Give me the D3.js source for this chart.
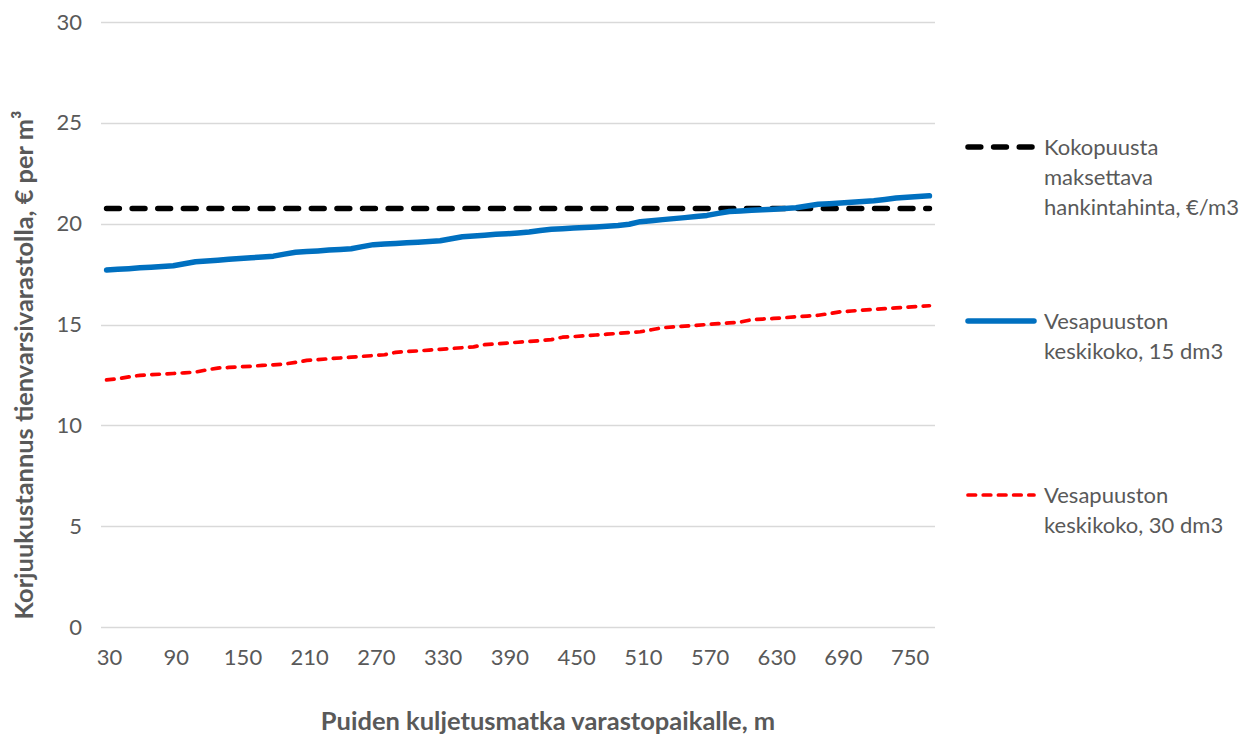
<!DOCTYPE html>
<html>
<head>
<meta charset="utf-8">
<script src="https://cdn.jsdelivr.net/npm/d3@7"></script>
<style>
  html, body { margin: 0; padding: 0; background: #ffffff; }
  svg { display: block; }
  text { font-family: Lato, "Open Sans", sans-serif; fill: #595959; }
</style>
</head>
<body>
<svg id="chart" width="1246" height="736"></svg>
<script>
// Transport distance to the roadside storage, m
const distances = [
  30, 40, 50, 60, 70, 80, 90, 100, 110, 120, 130, 140, 150, 160, 170,
  180, 190, 200, 210, 220, 230, 240, 250, 260, 270, 280, 290, 300, 310, 320,
  330, 340, 350, 360, 370, 380, 390, 400, 410, 420, 430, 440, 450, 460, 470,
  480, 490, 500, 510, 520, 530, 540, 550, 560, 570, 580, 590, 600, 610, 620,
  630, 640, 650, 660, 670, 680, 690, 700, 710, 720, 730, 740, 750, 760, 770
];

// Labelled distances on the x axis
const xTickLabels = [30, 90, 150, 210, 270, 330, 390, 450, 510, 570, 630, 690, 750];
const yTickLabels = [0, 5, 10, 15, 20, 25, 30];

// Purchase price paid for whole trees, €/m3
const wholeTreePrice = [
  20.75, 20.75, 20.75, 20.75, 20.75, 20.75, 20.75, 20.75, 20.75, 20.75, 20.75, 20.75, 20.75, 20.75, 20.75,
  20.75, 20.75, 20.75, 20.75, 20.75, 20.75, 20.75, 20.75, 20.75, 20.75, 20.75, 20.75, 20.75, 20.75, 20.75,
  20.75, 20.75, 20.75, 20.75, 20.75, 20.75, 20.75, 20.75, 20.75, 20.75, 20.75, 20.75, 20.75, 20.75, 20.75,
  20.75, 20.75, 20.75, 20.75, 20.75, 20.75, 20.75, 20.75, 20.75, 20.75, 20.75, 20.75, 20.75, 20.75, 20.75,
  20.75, 20.75, 20.75, 20.75, 20.75, 20.75, 20.75, 20.75, 20.75, 20.75, 20.75, 20.75, 20.75, 20.75, 20.75
];

// Harvesting cost, mean stem size 15 dm3
const cost15 = [
  17.70, 17.74, 17.77, 17.81, 17.84, 17.88, 17.91, 18.01, 18.11, 18.15, 18.19, 18.23, 18.27, 18.31, 18.35,
  18.39, 18.49, 18.58, 18.62, 18.65, 18.69, 18.72, 18.76, 18.86, 18.96, 18.99, 19.02, 19.05, 19.08, 19.11,
  19.15, 19.25, 19.35, 19.39, 19.43, 19.47, 19.50, 19.54, 19.59, 19.66, 19.72, 19.75, 19.78, 19.81, 19.84,
  19.87, 19.91, 19.97, 20.10, 20.15, 20.20, 20.25, 20.30, 20.35, 20.41, 20.51, 20.60, 20.63, 20.66, 20.69,
  20.72, 20.75, 20.79, 20.88, 20.96, 20.99, 21.02, 21.06, 21.10, 21.14, 21.20, 21.27, 21.31, 21.35, 21.38
];

// Harvesting cost, mean stem size 30 dm3
const cost30 = [
  12.25, 12.31, 12.40, 12.48, 12.51, 12.54, 12.57, 12.60, 12.64, 12.75, 12.84, 12.87, 12.90, 12.93, 12.97,
  13.00, 13.04, 13.12, 13.22, 13.26, 13.30, 13.34, 13.38, 13.42, 13.46, 13.50, 13.62, 13.66, 13.69, 13.73,
  13.77, 13.81, 13.85, 13.89, 14.00, 14.04, 14.08, 14.12, 14.16, 14.20, 14.25, 14.37, 14.40, 14.44, 14.48,
  14.52, 14.56, 14.60, 14.64, 14.74, 14.84, 14.88, 14.92, 14.96, 15.00, 15.04, 15.08, 15.12, 15.24, 15.27,
  15.30, 15.34, 15.38, 15.42, 15.46, 15.54, 15.63, 15.67, 15.71, 15.75, 15.79, 15.82, 15.86, 15.89, 15.93
];

const seriesNames = [
  ["Kokopuusta", "maksettava", "hankintahinta, €/m3"],
  ["Vesapuuston", "keskikoko, 15 dm3"],
  ["Vesapuuston", "keskikoko, 30 dm3"]
];

const svg = d3.select("#chart");

const plot = { left: 101, right: 935, top: 22, bottom: 627 };

const x = d3.scaleBand()
  .domain(distances)
  .range([plot.left, plot.right])
  .padding(0);

const y = d3.scaleLinear()
  .domain([0, 30])
  .range([plot.bottom, plot.top]);

const cx = d => x(d) + x.bandwidth() / 2;

// Horizontal gridlines
svg.append("g")
  .selectAll("line")
  .data(yTickLabels)
  .join("line")
  .attr("x1", plot.left)
  .attr("x2", plot.right)
  .attr("y1", d => Math.round(y(d)) + 0.5)
  .attr("y2", d => Math.round(y(d)) + 0.5)
  .attr("stroke", "#d9d9d9")
  .attr("stroke-width", 1.3);

// Y axis labels
const yAxis = svg.append("g")
  .attr("transform", `translate(${plot.left},0)`)
  .call(d3.axisLeft(y).tickValues(yTickLabels).tickSize(0).tickPadding(19));
yAxis.select(".domain").remove();
yAxis.selectAll("text")
  .style("font-family", "Lato, sans-serif")
  .style("font-size", "22px")
  .attr("fill", "#595959");

// X axis labels
const xAxis = svg.append("g")
  .attr("transform", `translate(0,${plot.bottom})`)
  .call(d3.axisBottom(x).tickValues(xTickLabels).tickSize(0).tickPadding(22));
xAxis.select(".domain").remove();
xAxis.selectAll("text")
  .style("font-family", "Lato, sans-serif")
  .style("font-size", "22px")
  .attr("fill", "#595959")
  .attr("dx", "3");

// Series styles
const styles = [
  { values: wholeTreePrice, color: "#000000", width: 5.5, dash: "12.8,12.8" },
  { values: cost15, color: "#0070C0", width: 5.5, dash: null },
  { values: cost30, color: "#FF0000", width: 3.7, dash: "7.6,7.6" }
];

const line = d3.line()
  .x((d, i) => cx(distances[i]))
  .y(d => y(d));

// Red first, then the black dashes, then the solid blue line on top
const drawOrder = [2, 0, 1];
drawOrder.forEach(k => {
  const s = styles[k];
  svg.append("path")
    .datum(s.values)
    .attr("fill", "none")
    .attr("stroke", s.color)
    .attr("stroke-width", s.width)
    .attr("stroke-linecap", "round")
    .attr("stroke-linejoin", "round")
    .attr("stroke-dasharray", s.dash)
    .attr("d", line);
});

// Legend
const legendY = [147, 321, 495];
const legend = svg.append("g");
styles.forEach((s, k) => {
  const g = legend.append("g").attr("transform", `translate(0,${legendY[k]})`);
  g.append("line")
    .attr("x1", 968)
    .attr("x2", 1034)
    .attr("y1", 0)
    .attr("y2", 0)
    .attr("stroke", s.color)
    .attr("stroke-width", s.width)
    .attr("stroke-linecap", "round")
    .attr("stroke-dasharray", s.dash);
  g.append("text")
    .attr("x", 1044)
    .attr("y", 0)
    .style("font-size", "22px")
    .selectAll("tspan")
    .data(seriesNames[k])
    .join("tspan")
    .attr("x", 1044)
    .attr("y", (d, i) => i * 30 + 8)
    .text(d => d);
});

// Axis titles
svg.append("text")
  .attr("x", 548)
  .attr("y", 730)
  .attr("text-anchor", "middle")
  .style("font-size", "25.5px")
  .style("font-weight", "bold")
  .text("Puiden kuljetusmatka varastopaikalle, m");

svg.append("text")
  .attr("transform", "translate(33,365) rotate(-90)")
  .attr("text-anchor", "middle")
  .style("font-size", "25.4px")
  .style("font-weight", "bold")
  .text("Korjuukustannus tienvarsivarastolla, € per m³");
</script>
</body>
</html>
